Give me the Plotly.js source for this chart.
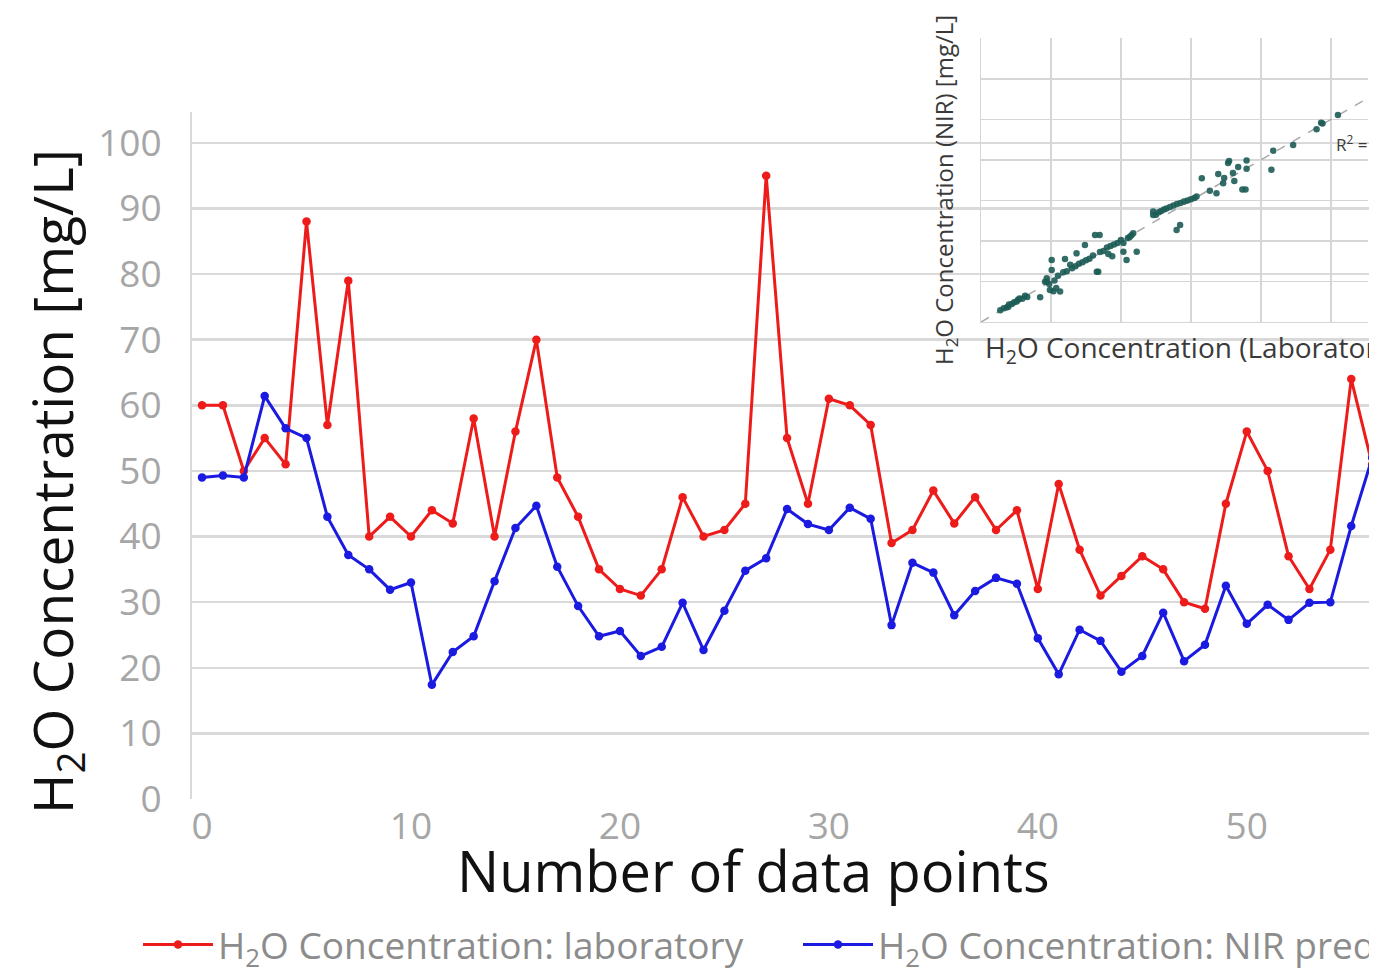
<!DOCTYPE html>
<html><head><meta charset="utf-8">
<script src="https://cdn.plot.ly/plotly-3.0.1.min.js"></script>
<style>html,body{margin:0;padding:0;background:#fff;overflow:hidden}#chart{width:1369px;height:976px}</style>
</head><body><div id="chart"></div><script>
// ---- main chart data ----
const dataPoints = [0,1,2,3,4,5,6,7,8,9,10,11,12,13,14,15,16,17,18,19,20,21,22,23,24,25,26,27,28,29,30,31,32,33,34,35,36,37,38,39,40,41,42,43,44,45,46,47,48,49,50,51,52,53,54,55,56];
const labValues = [60,60,50,55,51,88,57,79,40,43,40,44,42,58,40,56,70,49,43,35,32,31,35,46,40,41,45,95,55,45,61,60,57,39,41,47,42,46,41,44,32,48,38,31,34,37,35,30,29,45,56,50,37,32,38,64,51];
const nirValues = [49,49.3,49,61.4,56.5,55,43,37.2,35,31.9,33,17.4,22.4,24.8,33.2,41.3,44.7,35.4,29.4,24.8,25.6,21.8,23.2,29.9,22.7,28.7,34.8,36.7,44.2,41.9,41,44.4,42.7,26.5,36,34.5,28,31.7,33.7,32.8,24.5,19,25.8,24.1,19.4,21.8,28.4,21,23.5,32.5,26.7,29.6,27.3,29.9,30,41.6,52];
const yTicks = [0,10,20,30,40,50,60,70,80,90,100];
const xTicks = [0,10,20,30,40,50];
const seriesNames = ['H<sub>2</sub>O Concentration: laboratory','H<sub>2</sub>O Concentration: NIR prediction'];
const xTitle = 'Number of data points';
const yTitle = 'H<sub>2</sub>O Concentration [mg/L]';
const insetXTitle = 'H<sub>2</sub>O Concentration (Laboratory) [mg/L]';
const insetYTitle = 'H<sub>2</sub>O Concentration (NIR) [mg/L]';

// ---- inset (laboratory vs NIR) data ----
const insetLab = [5.5,6.5,7.3,7.8,8.0,8.8,9.5,10.2,10.6,11.0,11.8,12.6,13.2,16.9,18.3,18.8,18.8,19.5,19.7,20.2,20.2,20.7,21.5,22.6,21.0,22.0,24.0,23.5,24.5,25.5,26.0,27.0,27.3,28.0,29.0,29.7,30.0,31.0,32.0,32.6,33.1,33.5,33.9,34.0,35.0,36.0,36.4,37.0,37.5,38.0,39.0,40.0,40.7,40.7,41.6,42.0,42.5,43.0,43.5,44.5,49.2,49.2,50.0,50.8,51.5,52.3,53.0,54.0,55.0,55.9,56.0,56.9,57.0,58.0,59.0,60.0,61.0,61.6,63.1,65.4,67.3,67.8,69.2,69.5,70.6,70.9,72.0,72.4,73.5,74.7,75.6,75.9,75.9,83.0,83.5,89.2,95.9,97.2,97.6,102.0];
const insetNir = [5.8,6.8,7.2,7.5,8.6,8.9,9.8,10.1,11.0,11.6,11.5,12.9,12.4,12.2,19.9,21.6,19.9,18.8,15.8,30.6,25.7,15.2,16.8,15.0,20.5,22.8,31.1,24.5,25.0,28.3,26.5,27.5,33.9,28.8,29.5,38.0,30.5,31.2,32.8,43.0,24.8,24.8,43.0,34.6,35.0,36.8,33.6,37.5,32.5,38.2,39.0,40.5,34.7,39.0,30.6,41.5,42.0,42.8,43.8,34.7,52.8,54.5,53.0,54.2,54.8,55.5,56.0,56.8,57.5,45.4,58.2,47.9,58.8,59.5,60.0,60.6,61.2,61.9,71.0,64.8,63.5,73.1,68.5,71.1,78.5,79.5,73.6,69.6,76.5,65.4,65.4,79.7,75.6,75.1,84.6,87.4,95.2,98.4,98.0,102.2];
const fitLineX = [0,115];
const fitLineY = [0,115];

const FONT = 'Open Sans, sans-serif';
const RED = '#ee1b1b';
const BLUE = '#1a1ae0';

const traces = [
  {x: dataPoints, y: labValues, name: seriesNames[0], type: 'scatter', mode: 'lines+markers',
   line: {color: RED, width: 3}, marker: {color: RED, size: 8.5}, legend: 'legend', cliponaxis: true},
  {x: dataPoints, y: nirValues, name: seriesNames[1], type: 'scatter', mode: 'lines+markers',
   line: {color: BLUE, width: 3}, marker: {color: BLUE, size: 8.5}, legend: 'legend2', cliponaxis: true},
  {x: fitLineX, y: fitLineY, xaxis: 'x2', yaxis: 'y2', type: 'scatter', mode: 'lines', showlegend: false,
   line: {color: '#a8a8a8', width: 1.5, dash: 'dash'}, hoverinfo: 'skip'},
  {x: insetLab, y: insetNir, xaxis: 'x2', yaxis: 'y2', type: 'scatter', mode: 'markers', showlegend: false,
   marker: {color: '#1d5c55', size: 6.5, opacity: 0.9}}
];

const W = 1369, H = 976;
const px = v => v / W;            // horizontal pixel -> paper
const py = v => (H - v) / H;      // vertical pixel -> paper

const layout = {
  width: W, height: H,
  margin: {l: 0, r: 0, t: 0, b: 0, autoexpand: false},
  paper_bgcolor: '#ffffff', plot_bgcolor: 'rgba(0,0,0,0)',
  font: {family: FONT, color: '#a0a0a0'},
  showlegend: true,
  xaxis: {
    domain: [px(192), 1], range: [-0.48, 55.85], tickvals: xTicks, ticks: '',
    showgrid: false, zeroline: false, showline: false, automargin: false,
    tickfont: {family: FONT, size: 37, color: '#a6a6a6'}, ticklabelstandoff: 2
  },
  yaxis: {
    domain: [py(799), py(112)], range: [0, 104.7], tickvals: yTicks, ticks: '',
    showgrid: true, gridcolor: '#d9d9d9', gridwidth: 2.5, zeroline: false,
    showline: true, linecolor: '#d9d9d9', linewidth: 2, automargin: false,
    tickfont: {family: FONT, size: 37, color: '#a6a6a6'}, ticklabelstandoff: 21
  },
  xaxis2: {
    domain: [px(981), px(1368)], range: [0, 110.6], anchor: 'y2', dtick: 20, tick0: 0,
    showticklabels: false, ticks: '', showgrid: true, gridcolor: '#d6d6d6', gridwidth: 1.2,
    zeroline: false, showline: true, linecolor: '#d6d6d6', linewidth: 1.2
  },
  yaxis2: {
    domain: [py(322), py(38)], range: [0, 140.2], anchor: 'x2', dtick: 20, tick0: 0,
    showticklabels: false, ticks: '', showgrid: true, gridcolor: '#d6d6d6', gridwidth: 1.2,
    zeroline: false, showline: true, linecolor: '#d6d6d6', linewidth: 1.2
  },
  shapes: [
    {type: 'rect', xref: 'x', yref: 'y', x0: 34.26, x1: 60, y0: 65.1, y1: 120,
     fillcolor: '#ffffff', line: {width: 0}, layer: 'below'}
  ],
  annotations: [
    {text: xTitle, xref: 'paper', yref: 'paper', x: px(753), y: py(870), xanchor: 'center', yanchor: 'middle',
     showarrow: false, font: {family: FONT, size: 56, color: '#111111'}},
    {text: yTitle, xref: 'paper', yref: 'paper', x: px(55), y: py(482), xanchor: 'center', yanchor: 'middle',
     textangle: -90, showarrow: false, font: {family: FONT, size: 55, color: '#111111'}},
    {text: insetYTitle, xref: 'paper', yref: 'paper', x: px(945), y: py(190), xanchor: 'center', yanchor: 'middle',
     textangle: -90, showarrow: false, font: {family: FONT, size: 24, color: '#3a3a3a'}},
    {text: insetXTitle, xref: 'paper', yref: 'paper', x: px(983), y: py(349), xanchor: 'left', yanchor: 'middle',
     showarrow: false, font: {family: FONT, size: 28, color: '#3a3a3a'}},
    {text: 'R<sup>2</sup> =', xref: 'x2', yref: 'y2', x: 101, y: 88, xanchor: 'left', yanchor: 'middle',
     showarrow: false, font: {family: FONT, size: 17, color: '#3a3a3a'}}
  ],
  legend: {orientation: 'h', x: px(138), y: py(945), xanchor: 'left', yanchor: 'middle',
    font: {family: FONT, size: 37, color: '#8c8c8c'}, itemwidth: 70, bgcolor: 'rgba(0,0,0,0)'},
  legend2: {orientation: 'h', x: px(798), y: py(945), xanchor: 'left', yanchor: 'middle',
    font: {family: FONT, size: 37, color: '#8c8c8c'}, itemwidth: 70, bgcolor: 'rgba(0,0,0,0)'}
};

Plotly.newPlot('chart', traces, layout, {staticPlot: true, displayModeBar: false});
</script></body></html>
